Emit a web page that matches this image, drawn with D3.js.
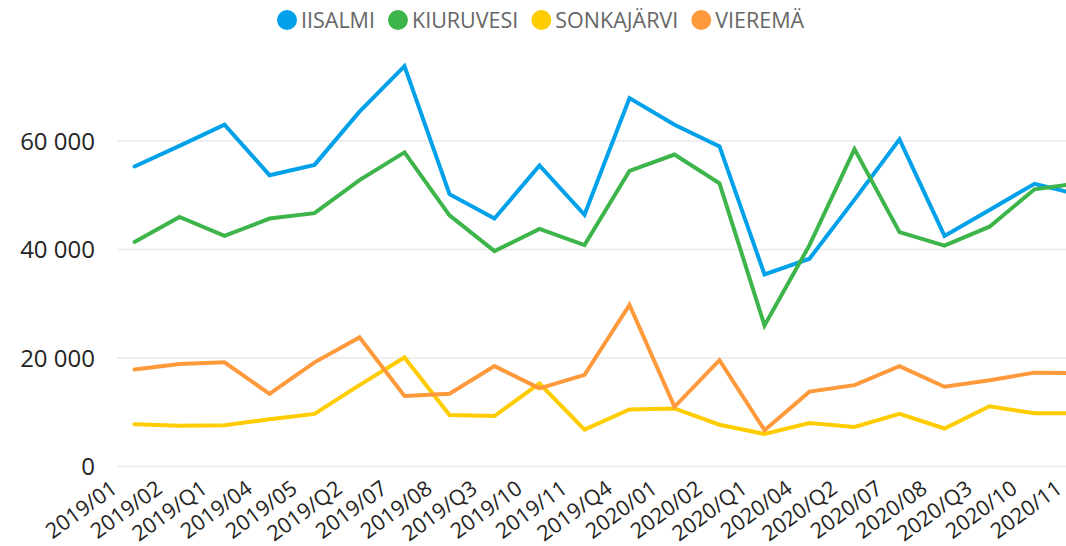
<!DOCTYPE html>
<html>
<head>
<meta charset="utf-8">
<script src="https://cdn.jsdelivr.net/npm/d3@7"></script>
<style>
  html, body { margin: 0; padding: 0; background: #fff; overflow: hidden; }
  svg { display: block; }
</style>
</head>
<body>
<svg id="chart" width="1066" height="546"></svg>
<script>
const categories = ["2019/01","2019/02","2019/Q1","2019/04","2019/05","2019/Q2","2019/07","2019/08","2019/Q3","2019/10","2019/11","2019/Q4","2020/01","2020/02","2020/Q1","2020/04","2020/Q2","2020/07","2020/08","2020/Q3","2020/10","2020/11"];
const seriesNames = ["IISALMI","KIURUVESI","SONKAJÄRVI","VIEREMÄ"];
const iisalmi    = [55300,59100,63000,53700,55600,65400,73800,50200,45700,55500,46400,67900,63000,59000,35400,38300,49200,60300,42500,47300,52100,50100];
const kiuruvesi  = [41400,46000,42500,45700,46700,52800,57900,46300,39700,43800,40800,54500,57500,52200,26000,40800,58500,43200,40700,44200,51100,52200];
const sonkajarvi = [7800,7500,7600,8700,9700,15000,20100,9500,9300,15300,6800,10500,10700,7700,6000,8000,7300,9700,7000,11100,9800,9800];
const vierema    = [17900,18900,19200,13400,19200,23800,13000,13400,18500,14400,16900,29800,11000,19600,6700,13800,15000,18500,14700,15900,17300,17200];
const yTicks = [0, 20000, 40000, 60000];
const colors = ["#00A1E9","#3DB54A","#FFCC00","#FF9A3C"];

const seriesValues = [iisalmi, kiuruvesi, sonkajarvi, vierema];

const svg = d3.select("#chart");
const x = d3.scalePoint().domain(categories).range([134.5, 1079.5]);
const y = d3.scaleLinear().domain([0, 60000]).range([466.5, 141]);

const fmt = v => d3.format(",")(v).replace(/,/g, " ");

// gridlines
svg.append("g").selectAll("line").data(yTicks).join("line")
  .attr("x1", 117).attr("x2", 1100)
  .attr("y1", d => y(d)).attr("y2", d => y(d))
  .attr("stroke", "#e8e8e8").attr("stroke-width", 1.5);

// y labels
svg.append("g").selectAll("text").data(yTicks).join("text")
  .attr("x", 95).attr("y", d => y(d)).attr("dy", "0.36em")
  .attr("text-anchor", "end")
  .attr("font-family", "'Open Sans', 'Noto Sans', sans-serif")
  .attr("font-size", 24).attr("fill", "#252423")
  .text(fmt);

// x labels
svg.append("g").selectAll("text").data(categories).join("text")
  .attr("transform", d => `translate(${x(d) - 25},${479}) rotate(-36)`)
  .attr("dy", "0.72em")
  .attr("text-anchor", "end")
  .attr("font-family", "'Open Sans', 'Noto Sans', sans-serif")
  .attr("font-size", 21.5).attr("fill", "#252423")
  .text(d => d);

// lines
const line = d3.line().x((d, i) => x(categories[i])).y(d => y(d));
svg.append("g").selectAll("path").data(seriesValues).join("path")
  .attr("d", line)
  .attr("fill", "none")
  .attr("stroke", (d, i) => colors[i])
  .attr("stroke-width", 4)
  .attr("stroke-linejoin", "miter")
  .attr("stroke-linecap", "round");

// legend
const legend = svg.append("g");
let cx = 277;
seriesNames.forEach((name, i) => {
  const g = legend.append("g");
  g.append("circle").attr("cx", cx + 10).attr("cy", 20).attr("r", 10).attr("fill", colors[i]);
  const t = g.append("text").attr("x", cx + 24).attr("y", 20).attr("dy", "0.36em")
    .attr("font-family", "'Open Sans', 'Noto Sans', sans-serif")
    .attr("font-size", 21.5).attr("fill", "#666666")
    .text(name);
  cx = cx + 24 + t.node().getComputedTextLength() + 13;
});
</script>
</body>
</html>
